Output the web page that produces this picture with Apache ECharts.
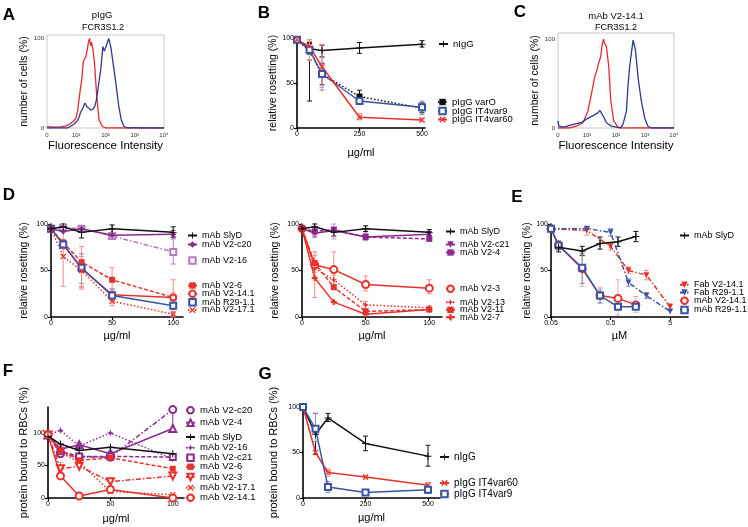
<!DOCTYPE html>
<html><head><meta charset="utf-8">
<script src="https://cdn.jsdelivr.net/npm/echarts@6/dist/echarts.min.js"></script>
<style>html,body{margin:0;padding:0;background:#fff}#c{width:748px;height:527px}</style>
</head><body><div id="c"></div>
<script>
// ---------------- DATA ----------------
// Panel A histograms (x = log decades, y = % of max)
const A_red = [[0,1.5],[0.3,1],[0.5,1.5],[0.62,2],[0.76,4],[0.92,8],[1.0,12],[1.05,20],[1.11,36],[1.19,55],[1.24,74],[1.29,76],[1.33,80],[1.38,88],[1.42,97],[1.46,100],[1.49,92],[1.52,96],[1.57,88],[1.62,74],[1.70,36],[1.78,9],[1.89,2],[2.0,0],[4,0]];
const A_blue = [[0,0],[0.7,0],[0.81,2],[0.95,5],[1.03,8],[1.10,12],[1.14,17],[1.22,22],[1.30,28],[1.36,24],[1.41,23],[1.50,20],[1.57,21],[1.63,24],[1.68,30],[1.73,40],[1.79,55],[1.84,66],[1.91,91],[1.96,86],[2.0,85],[2.05,94],[2.11,100],[2.15,95],[2.19,89],[2.27,70],[2.35,51],[2.45,25],[2.54,9],[2.63,2],[2.75,0],[3.0,0.5],[3.2,0],[4,0]];
// Panel C histograms
const C_red = [[0,0],[0.4,0],[0.63,2],[0.86,6],[1.03,19],[1.15,38],[1.26,57],[1.34,65],[1.40,73],[1.47,80],[1.53,95],[1.57,100],[1.61,95],[1.67,92],[1.75,69],[1.82,31],[1.92,8],[2.07,1],[2.2,0],[4,0]];
const C_blue = [[0,8],[0.03,2],[0.2,1],[0.52,4],[0.80,6],[0.98,10],[1.21,14],[1.38,17],[1.44,20],[1.55,14],[1.67,6],[1.84,2],[2.01,1],[2.15,0],[2.24,4],[2.36,19],[2.41,46],[2.47,69],[2.53,84],[2.59,99],[2.61,100],[2.67,88],[2.76,57],[2.87,31],[2.99,11],[3.10,2],[3.22,0],[4,0]];
const HIST_XTICKS = ['0','10¹','10²','10³','10⁴'];

// Panel B
const B_conc = [0, 50, 100, 250, 500];
const B_nIgG = [98, 88, 86, 89, 93];
const B_nIgG_err = [null,[82,94],[79,92],[83,95],[90,97]];
const B_varO = [98, 86, 60, 35, 22];
const B_varO_err = [null,[30,95],[48,72],[30,42],[17,28]];
const B_var9 = [98, 87, 60, 30, 23];
const B_var9_err = [null,[76,98],[42,78],[27,33],[15,30]];
const B_var60 = [98, 91, 68, 12, 9];
const B_var60_err = [null,[75,96],[45,93],[9,16],[7,11]];

// Panel D (left)
const D_conc = [0, 10, 25, 50, 100];
const D1_SlyD = [95, 97, 91, 95, 91];
const D1_SlyD_err = [null,[93,100],[85,97],[90,99],[86,97]];
const D1_c20 = [95, 92, 95, 88, 89];
const D1_c20_err = [null,null,[92,98],[85,91],[85,93]];
const D1_16 = [95, 96, 95, 87, 70];
const D1_16_err = [null,null,null,[85,90],[57,84]];
const D1_6 = [95, 80, 59, 40, 21];
const D1_6_err = [null,null,[30,76],[30,53],[2,40]];
const D1_141 = [95, 78, 52, 24, 21];
const D1_141_err = [null,[73,83],[33,65],[18,30],[16,26]];
const D1_R29 = [95, 78, 53, 23, 12];
const D1_R29_err = [null,[74,83],[36,68],[18,30],[8,16]];
const D1_171 = [95, 65, 50, 17, 3];
const D1_171_err = [null,[33,93],[32,68],[12,24],[0,6]];

// Panel D (right)
const D2_SlyD = [95, 97, 91, 95, 91];
const D2_SlyD_err = [null,[94,100],[87,95],[92,98],[88,94]];
const D2_c21 = [95, 90, 93, 86, 89];
const D2_c21_err = [null,[86,94],null,[83,90],[87,92]];
const D2_4 = [95, 92, 94, 86, 84];
const D2_4_err = [null,[88,96],[84,100],[82,90],null];
const D2_3 = [95, 56, 51, 35, 31];
const D2_3_err = [null,[48,70],[30,70],[28,44],[25,40]];
const D2_13 = [95, 52, 40, 13, 10];
const D2_13_err = [null,null,[35,45],[8,17],[8,12]];
const D2_11 = [95, 58, 32, 6, 8];
const D2_11_err = [null,[52,66],null,[3,9],[6,10]];
const D2_7 = [95, 42, 16, 3, 8];
const D2_7_err = [null,[21,60],null,null,null];

// Panel E (µM, log axis)
const E_SlyD_conc = [0.067, 0.167, 0.333, 0.667, 1.33];
const E_SlyD = [75, 71, 79, 81, 86.5];
const E_SlyD_err = [[70,80],[66,76],[73,86],[76,86],[81,92]];
const E_Fab_conc = [0.05, 0.2, 0.5, 1, 2, 5];
const E_Fab141 = [95, 93, 76, 50, 45, 11];
const E_Fab141_err = [null,[88,97],[72,80],[47,54],[40,50],[8,14]];
const E_FabR29 = [95, 95, 91, 37, 23, 6];
const E_FabR29_err = [null,null,[87,95],[33,41],[20,26],null];
const E_mAb_conc = [0.05, 0.067, 0.167, 0.333, 0.667, 1.33];
const E_mAb141 = [95, 77, 52, 23, 20, 13];
const E_mAb141_err = [null,[72,82],[33,70],[15,32],[2,40],[5,22]];
const E_mAbR29 = [95, 77, 53, 23, 11, 11];
const E_mAbR29_err = [null,[73,82],[36,68],[15,30],[9,13],[9,13]];

// Panel F
const F_conc = [0, 10, 25, 50, 100];
const F_c20 = [97, 68, 63, 63, 136];
const F_4 = [97, 75, 82, 68, 107];
const F_4_err = [null,null,[78,84],[64,72],[104,132]];
const F_SlyD = [95, 83, 73, 78, 68];
const F_16 = [97, 104, 80, 100, 60];
const F_c21 = [97, 72, 64, 64, 63];
const F_6 = [97, 74, 58, 62, 45];
const F_6_err = [null,null,null,[57,67],null];
const F_3 = [97, 45, 49, 25, 34];
const F_3_err = [null,[38,55],null,null,null];
const F_171 = [97, 70, 55, 10, 5];
const F_141 = [97, 34, 3, 13, 0];
const F_141_err = [null,null,null,[8,18],null];

// Panel G
const G_conc = [0, 50, 100, 250, 500];
const G_nIgG = [100, 70, 88, 60, 46];
const G_nIgG_err = [null,[48,93],[84,93],[52,68],[35,58]];
const G_var60 = [100, 50, 28, 23, 14];
const G_var60_err = [null,null,[24,32],[21,25],[12,17]];
const G_var9 = [100, 76, 12, 6, 9];
const G_var9_err = [null,[62,93],[6,18],[3,9],[5,13]];

// ---------------- STYLE ----------------
const FONT = '"Liberation Sans", Arial, Helvetica, sans-serif';
const RED='#e8312b', BLUE='#3a53a4', PURPLE='#8b2a8f', LPURPLE='#b57bc0', BLACK='#111111';
const HRED='#e32a2e', HBLUE='#2b3990';
const S_PLUS = 'path://M4.3,0h1.4v4.3h4.3v1.4h-4.3v4.3h-1.4v-4.3h-4.3v-1.4h4.3z';
const S_TPLUS = 'path://M3.3,0h3.4v3.3h3.3v3.4h-3.3v3.3h-3.4v-3.3h-3.3v-3.4h3.3z';
const S_STAR = 'path://M5,0L6.3,3.7L10,5L6.3,6.3L5,10L3.7,6.3L0,5L3.7,3.7Z';
const S_X = 'path://M1.4,0L5,3.6L8.6,0L10,1.4L6.4,5L10,8.6L8.6,10L5,6.4L1.4,10L0,8.6L3.6,5L0,1.4Z';
const DASH=[4,2], DOT=[1.5,2], DASHDOT=[5,2,1.5,2];

const series = [], xAxes = [], yAxes = [], grids = [], legends = [];

function errRender(params, api) {
  const x = api.value(0), lo = api.value(1), hi = api.value(2);
  const p1 = api.coord([x, lo]), p2 = api.coord([x, hi]);
  const w = 2.5;
  const style = {stroke: api.visual('color'), lineWidth: 1};
  return {type:'group', children:[
    {type:'line', shape:{x1:p1[0],y1:p1[1],x2:p2[0],y2:p2[1]}, style},
    {type:'line', shape:{x1:p1[0]-w,y1:p1[1],x2:p1[0]+w,y2:p1[1]}, style},
    {type:'line', shape:{x1:p2[0]-w,y1:p2[1],x2:p2[0]+w,y2:p2[1]}, style}
  ]};
}

function addLine(gi, def) {
  series.push({
    type:'line', name:def.name, xAxisIndex:gi, yAxisIndex:gi,
    data: def.x.map((x,i)=>[x, def.y[i]]),
    symbol: def.sym, symbolSize: def.size || 5, symbolRotate: def.rot || 0,
    itemStyle:{color:def.color, borderWidth:1.2},
    lineStyle:{color:def.color, width:1.5, type:def.dash || 'solid'},
    z: def.z || 3, animation:false, clip:false
  });
  if (def.err) {
    series.push({
      type:'custom', name:def.name + '#err', xAxisIndex:gi, yAxisIndex:gi,
      data: def.err.map((e,i)=> e ? [def.x[i], e[0], e[1]] : null).filter(Boolean),
      renderItem: errRender, encode:{x:0, y:[1,2]},
      itemStyle:{color: def.ecolor || def.color, opacity: 0.75},
      clip:false, z:2, silent:true, animation:false
    });
  }
}

function addLegend(name, textX, yc, fs) {
  legends.push({
    data:[name], left: textX - 9 - 5, top: yc - 4, orient:'vertical',
    itemWidth:9, itemHeight:8, itemGap:0, padding:0, selectedMode:false,
    formatter: n => n.split('|')[1],
    textStyle:{fontSize:fs, fontFamily:FONT, color:'#000', lineHeight:8, padding:0}
  });
}

function axisCommon(o) {
  return {
    axisLine:{show:true, onZero:false, lineStyle:{color:'#000', width:1.6}},
    axisTick:{show:true, length:3, inside:false, lineStyle:{color:'#000', width:1.2}, customValues:o.ticks},
    axisLabel:{fontSize:7, color:'#000', fontFamily:FONT, margin:3, customValues:o.ticks, formatter:o.fmt},
    splitLine:{show:false},
    name:o.name, nameLocation:'middle', nameGap:o.gap, nameRotate:o.rot || 0,
    nameTextStyle:{fontSize:o.nfs || 11, fontFamily:FONT, color:'#000'}
  };
}

// Build a standard XY panel
function panel(gi, g, xo, yo) {
  grids.push(Object.assign({containLabel:false}, g));
  xAxes.push(Object.assign({type: xo.type || 'value', gridIndex:gi, min:xo.min, max:xo.max}, axisCommon(xo), xo.type==='log'?{logBase:10}:{}));
  yAxes.push(Object.assign({type:'value', gridIndex:gi, min:yo.min, max:yo.max}, axisCommon(Object.assign({rot:90}, yo))));
}

// Histogram panel
function histPanel(gi, g, ymax) {
  grids.push(Object.assign({show:true, borderColor:'#c8c8c8', borderWidth:1, backgroundColor:'#fff'}, g));
  xAxes.push({type:'value', gridIndex:gi, min:0, max:4,
    axisLine:{show:false}, axisTick:{show:false}, splitLine:{show:false},
    axisLabel:{fontSize:6, color:'#333', fontFamily:FONT, margin:4, customValues:[0,1,2,3,4], formatter:v=>HIST_XTICKS[Math.round(v)]},
    name:'Fluorescence Intensity', nameLocation:'middle', nameGap:12, nameTextStyle:{fontSize:11.5, fontFamily:FONT, color:'#000'}});
  yAxes.push({type:'value', gridIndex:gi, min:0, max:ymax,
    axisLine:{show:false}, axisTick:{show:false}, splitLine:{show:false},
    axisLabel:{fontSize:6, color:'#333', fontFamily:FONT, margin:3, customValues:[0,100]},
    name:'number of cells (%)', nameLocation:'middle', nameGap:13, nameRotate:90, nameTextStyle:{fontSize:10.5, fontFamily:FONT, color:'#000'}});
}
function histLine(gi, data, color) {
  series.push({type:'line', xAxisIndex:gi, yAxisIndex:gi, data, symbol:'none', lineStyle:{color, width:1.3}, itemStyle:{color}, animation:false, z:3});
}

// ---- A (0) ----
histPanel(0, {left:47, top:35, width:117, height:93}, 104);
histLine(0, A_red, HRED); histLine(0, A_blue, HBLUE);

// ---- B (1) ----
panel(1, {left:297, top:38, width:128, height:90},
  {min:0, max:512, ticks:[0,250,500], name:'µg/ml', gap:19},
  {min:0, max:100, ticks:[0,50,100], name:'relative rosetting (%)', gap:18, nfs:10.5});
addLine(1, {name:'B|nIgG', x:B_conc, y:B_nIgG, err:B_nIgG_err, color:BLACK, sym:S_PLUS, size:7});
addLine(1, {name:'B|pIgG varO', x:B_conc, y:B_varO, err:B_varO_err, color:BLACK, sym:'rect', size:6, dash:DOT});
addLine(1, {name:'B|pIgG IT4var9', x:B_conc, y:B_var9, err:B_var9_err, color:BLUE, sym:'emptyRect', size:6, ecolor:'#8592c6'});
addLine(1, {name:'B|pIgG IT4var60', x:B_conc, y:B_var60, err:B_var60_err, color:RED, sym:S_X, size:6, ecolor:'#ee8e88'});
addLegend('B|nIgG', 452, 43, 9.5);
addLegend('B|pIgG varO', 451, 101, 9.5);
addLegend('B|pIgG IT4var9', 451, 110, 9.5);
addLegend('B|pIgG IT4var60', 451, 118.5, 9.5);

// ---- C (2) ----
histPanel(2, {left:558, top:33, width:116, height:95}, 107);
histLine(2, C_red, HRED); histLine(2, C_blue, HBLUE);

// ---- D left (3) ----
panel(3, {left:51, top:224, width:132, height:93},
  {min:0, max:108, ticks:[0,50,100], name:'µg/ml', gap:13},
  {min:0, max:100, ticks:[0,50,100], name:'relative rosetting (%)', gap:21, nfs:10.5});
addLine(3, {name:'D1|mAb SlyD', x:D_conc, y:D1_SlyD, err:D1_SlyD_err, color:BLACK, sym:S_PLUS, size:7, z:5});
addLine(3, {name:'D1|mAb V2-c20', x:D_conc, y:D1_c20, err:D1_c20_err, color:PURPLE, sym:'diamond', size:6, z:4});
addLine(3, {name:'D1|mAb V2-16', x:D_conc, y:D1_16, err:D1_16_err, color:LPURPLE, sym:'emptyRect', size:6, dash:DASHDOT});
addLine(3, {name:'D1|mAb V2-6', x:D_conc, y:D1_6, err:D1_6_err, color:RED, sym:'rect', size:6, dash:DASH, ecolor:'#ee8e88'});
addLine(3, {name:'D1|mAb V2-14.1', x:D_conc, y:D1_141, err:D1_141_err, color:RED, sym:'emptyCircle', size:6, ecolor:'#ee8e88'});
addLine(3, {name:'D1|mAb R29-1.1', x:D_conc, y:D1_R29, err:D1_R29_err, color:BLUE, sym:'emptyRect', size:6, ecolor:'#8592c6'});
addLine(3, {name:'D1|mAb V2-17.1', x:D_conc, y:D1_171, err:D1_171_err, color:RED, sym:S_X, size:6, dash:DOT, ecolor:'#ee8e88'});
addLegend('D1|mAb SlyD', 201, 235, 9);
addLegend('D1|mAb V2-c20', 201, 244, 9);
addLegend('D1|mAb V2-16', 201, 260, 9);
addLegend('D1|mAb V2-6', 201, 285, 9);
addLegend('D1|mAb V2-14.1', 201, 293.3, 9);
addLegend('D1|mAb R29-1.1', 201, 301.7, 9);
addLegend('D1|mAb V2-17.1', 201, 309.5, 9);

// ---- D right (4) ----
panel(4, {left:302, top:224, width:140, height:93},
  {min:0, max:110, ticks:[0,50,100], name:'µg/ml', gap:13},
  {min:0, max:100, ticks:[0,50,100], name:'relative rosetting (%)', gap:21, nfs:10.5});
addLine(4, {name:'D2|mAb SlyD', x:D_conc, y:D2_SlyD, err:D2_SlyD_err, color:BLACK, sym:S_PLUS, size:7, z:5});
addLine(4, {name:'D2|mAb V2-c21', x:D_conc, y:D2_c21, err:D2_c21_err, color:PURPLE, sym:'triangle', rot:180, size:6, z:4});
addLine(4, {name:'D2|mAb V2-4', x:D_conc, y:D2_4, err:D2_4_err, color:PURPLE, sym:'rect', size:6, dash:DASH, ecolor:'#c48fcb'});
addLine(4, {name:'D2|mAb V2-3', x:D_conc, y:D2_3, err:D2_3_err, color:RED, sym:'emptyCircle', size:7, ecolor:'#ee8e88'});
addLine(4, {name:'D2|mAb V2-13', x:D_conc, y:D2_13, err:D2_13_err, color:RED, sym:S_STAR, size:7, dash:DOT, ecolor:'#ee8e88'});
addLine(4, {name:'D2|mAb V2-11', x:D_conc, y:D2_11, err:D2_11_err, color:RED, sym:'rect', size:6, dash:DASH, ecolor:'#ee8e88'});
addLine(4, {name:'D2|mAb V2-7', x:D_conc, y:D2_7, err:D2_7_err, color:RED, sym:S_TPLUS, size:6, ecolor:'#ee8e88'});
addLegend('D2|mAb SlyD', 459, 231, 9);
addLegend('D2|mAb V2-c21', 459, 244, 9);
addLegend('D2|mAb V2-4', 459, 252, 9);
addLegend('D2|mAb V2-3', 459, 288.3, 9);
addLegend('D2|mAb V2-13', 459, 301.7, 9);
addLegend('D2|mAb V2-11', 459, 309.3, 9);
addLegend('D2|mAb V2-7', 459, 316.7, 9);

// ---- E (5) ----
panel(5, {left:551, top:224, width:137, height:93},
  {type:'log', min:0.05, max:10, ticks:[0.05,0.5,5], fmt:v=>String(v), name:'µM', gap:13},
  {min:0, max:100, ticks:[0,50,100], name:'relative rosetting (%)', gap:12, nfs:10.5});
addLine(5, {name:'E|mAb SlyD', x:E_SlyD_conc, y:E_SlyD, err:E_SlyD_err, color:BLACK, sym:S_PLUS, size:7, z:5});
addLine(5, {name:'E|Fab V2-14.1', x:E_Fab_conc, y:E_Fab141, err:E_Fab141_err, color:RED, sym:'triangle', rot:180, size:6, dash:DASHDOT, ecolor:'#ee8e88'});
addLine(5, {name:'E|Fab R29-1.1', x:E_Fab_conc, y:E_FabR29, err:E_FabR29_err, color:BLUE, sym:'triangle', rot:180, size:6, dash:DASHDOT, ecolor:'#8592c6'});
addLine(5, {name:'E|mAb V2-14.1', x:E_mAb_conc, y:E_mAb141, err:E_mAb141_err, color:RED, sym:'emptyCircle', size:7, ecolor:'#f2aaa5'});
addLine(5, {name:'E|mAb R29-1.1', x:E_mAb_conc, y:E_mAbR29, err:E_mAbR29_err, color:BLUE, sym:'emptyRect', size:6, ecolor:'#8592c6'});
addLegend('E|mAb SlyD', 693, 235, 9);
addLegend('E|Fab V2-14.1', 693, 284.3, 9);
addLegend('E|Fab R29-1.1', 693, 292, 9);
addLegend('E|mAb V2-14.1', 693, 300.3, 9);
addLegend('E|mAb R29-1.1', 693, 309.5, 9);

// ---- F (6) ----
panel(6, {left:48, top:407, width:136, height:91},
  {min:0, max:109, ticks:[0,50,100], name:'µg/ml', gap:15},
  {min:0, max:140, ticks:[0,50,100], name:'protein bound to RBCs (%)', gap:17, nfs:11});
addLine(6, {name:'F|mAb V2-c20', x:F_conc, y:F_c20, color:PURPLE, sym:'emptyCircle', size:7, dash:DASHDOT});
addLine(6, {name:'F|mAb V2-4', x:F_conc, y:F_4, err:F_4_err, color:PURPLE, sym:'emptyTriangle', size:7});
addLine(6, {name:'F|mAb SlyD', x:F_conc, y:F_SlyD, color:BLACK, sym:S_PLUS, size:7, z:5});
addLine(6, {name:'F|mAb V2-16', x:F_conc, y:F_16, color:PURPLE, sym:S_STAR, size:7, dash:DOT});
addLine(6, {name:'F|mAb V2-c21', x:F_conc, y:F_c21, color:PURPLE, sym:'emptyRect', size:6, dash:DASH});
addLine(6, {name:'F|mAb V2-6', x:F_conc, y:F_6, err:F_6_err, color:RED, sym:'rect', size:6, dash:DASH, ecolor:'#ee8e88'});
addLine(6, {name:'F|mAb V2-3', x:F_conc, y:F_3, err:F_3_err, color:RED, sym:'emptyTriangle', rot:180, size:7, dash:DASHDOT, ecolor:'#ee8e88'});
addLine(6, {name:'F|mAb V2-17.1', x:F_conc, y:F_171, color:RED, sym:S_X, size:6, dash:DOT});
addLine(6, {name:'F|mAb V2-14.1', x:F_conc, y:F_141, err:F_141_err, color:RED, sym:'emptyCircle', size:7, ecolor:'#ee8e88'});
addLegend('F|mAb V2-c20', 199, 409.3, 9.5);
addLegend('F|mAb V2-4', 199, 421.7, 9.5);
addLegend('F|mAb SlyD', 199, 436, 9.5);
addLegend('F|mAb V2-16', 199, 446.7, 9.5);
addLegend('F|mAb V2-c21', 199, 456.7, 9.5);
addLegend('F|mAb V2-6', 199, 465.7, 9.5);
addLegend('F|mAb V2-3', 199, 476, 9.5);
addLegend('F|mAb V2-17.1', 199, 486.7, 9.5);
addLegend('F|mAb V2-14.1', 199, 496.7, 9.5);

// ---- G (7) ----
panel(7, {left:303, top:407, width:137, height:91},
  {min:0, max:548, ticks:[0,250,500], name:'µg/ml', gap:14},
  {min:0, max:100, ticks:[0,50,100], name:'protein bound to RBCs (%)', gap:24, nfs:11});
addLine(7, {name:'G|nIgG', x:G_conc, y:G_nIgG, err:G_nIgG_err, color:BLACK, sym:S_PLUS, size:7});
addLine(7, {name:'G|pIgG IT4var60', x:G_conc, y:G_var60, err:G_var60_err, color:RED, sym:S_X, size:6, ecolor:'#ee8e88'});
addLine(7, {name:'G|pIgG IT4var9', x:G_conc, y:G_var9, err:G_var9_err, color:BLUE, sym:'emptyRect', size:6, ecolor:'#8592c6'});
addLegend('G|nIgG', 453, 456, 10);
addLegend('G|pIgG IT4var60', 453, 482, 10);
addLegend('G|pIgG IT4var9', 453, 493, 10);

// ---- Text labels ----
const LETTER = 'bold 17px ' + FONT;
const labels = [
  ['A', 9, 15, LETTER], ['B', 264, 13, LETTER], ['C', 520, 12, LETTER],
  ['D', 9, 195, LETTER], ['E', 517, 197, LETTER], ['F', 8, 371, LETTER], ['G', 265, 374, LETTER],
  ['pIgG', 102, 15.5, '9.5px ' + FONT], ['FCR3S1.2', 103, 27.5, '9px ' + FONT],
  ['mAb V2-14.1', 616, 16, '9.5px ' + FONT], ['FCR3S1.2', 616, 28, '9px ' + FONT]
];

const chart = echarts.init(document.getElementById('c'), null, {renderer:'canvas'});
chart.setOption({
  backgroundColor:'#fff', animation:false,
  textStyle:{fontFamily:FONT},
  grid: grids, xAxis: xAxes, yAxis: yAxes, legend: legends, series,
  graphic: labels.map(t => ({type:'text', x:t[1], y:t[2], style:{text:t[0], font:t[3], fill:'#000', align:'center', verticalAlign:'middle', textAlign:'center', textVerticalAlign:'middle'}}))
});
</script></body></html>
